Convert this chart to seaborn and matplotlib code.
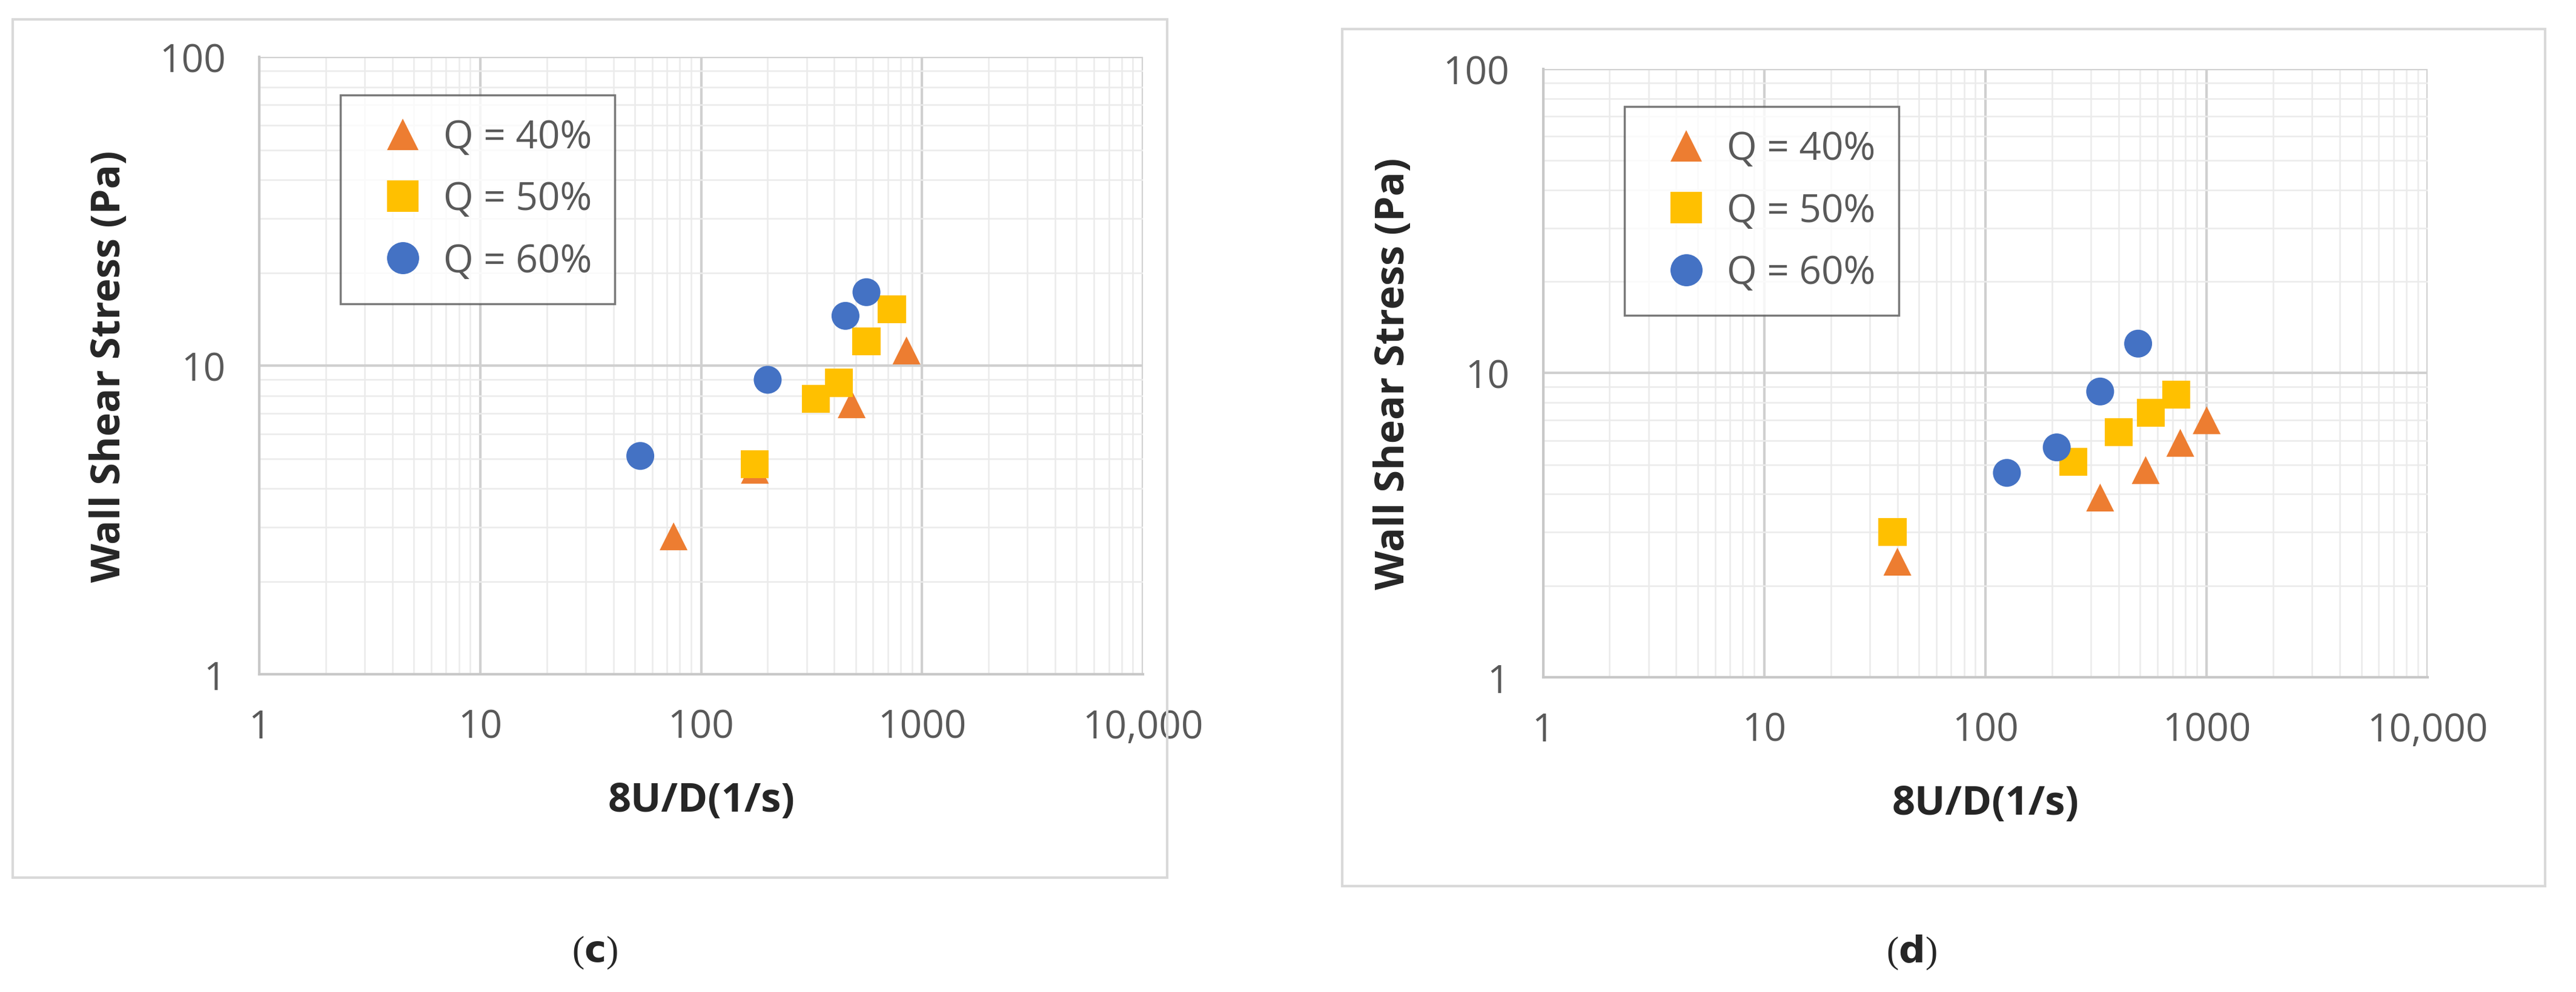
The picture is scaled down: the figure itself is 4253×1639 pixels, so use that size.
import numpy as np
import pandas as pd
import seaborn as sns
import matplotlib.pyplot as plt
from matplotlib.patches import Rectangle
from matplotlib.ticker import FixedLocator, LogLocator, NullFormatter

# data
series = ["Q = 40%", "Q = 50%", "Q = 60%"]

c_x40 = [75, 175, 480, 850]
c_y40 = [2.8, 4.6, 7.5, 11.2]
c_x50 = [175, 330, 420, 560, 730]
c_y50 = [4.8, 7.8, 8.8, 12.0, 15.2]
c_x60 = [53, 200, 450, 560]
c_y60 = [5.1, 9.0, 14.5, 17.3]

d_x40 = [40, 330, 530, 760, 1000]
d_y40 = [2.4, 3.9, 4.8, 5.9, 7.0]
d_x50 = [38, 250, 400, 560, 730]
d_y50 = [3.0, 5.1, 6.4, 7.4, 8.5]
d_x60 = [125, 210, 330, 490]
d_y60 = [4.7, 5.7, 8.7, 12.5]

x_ticks = [1, 10, 100, 1000, 10000]
x_labels = ["1", "10", "100", "1000", "10,000"]
y_ticks = [1, 10, 100]
y_labels = ["1", "10", "100"]


def make_df(xs, ys):
    rows = []
    for name, x, y in zip(series, xs, ys):
        for a, b in zip(x, y):
            rows.append({"x": a, "y": b, "Q": name})
    return pd.DataFrame(rows)


sns.set_style("white")
plt.rcParams['font.family'] = ['Open Sans', 'DejaVu Sans']

palette = {"Q = 40%": "#ED7D31", "Q = 50%": "#FFC000", "Q = 60%": "#4472C4"}
markers = {"Q = 40%": "^", "Q = 50%": "s", "Q = 60%": "o"}

fig = plt.figure(figsize=(42.53, 16.4), dpi=100)

panels = [
    (make_df([c_x40, c_x50, c_x60], [c_y40, c_y50, c_y60]),
     [0.1007, 0.320, 0.343, 0.622], (0.005, 0.115, 0.448, 0.865), "c", 0.231),
    (make_df([d_x40, d_x50, d_x60], [d_y40, d_y50, d_y60]),
     [0.599, 0.317, 0.3435, 0.613], (0.521, 0.107, 0.467, 0.863), "d", 0.742),
]

for df, pos, box, cap, capx in panels:
    fig.patches.append(Rectangle(box[:2], box[2], box[3], transform=fig.transFigure,
                                 fill=False, edgecolor="#D9D9D9", linewidth=3))
    ax = fig.add_axes(pos)
    sns.scatterplot(data=df, x="x", y="y", hue="Q", style="Q", palette=palette,
                    markers=markers, s=1100, edgecolor="none", ax=ax, zorder=3)
    ax.set_xscale("log")
    ax.set_yscale("log")
    ax.set_xlim(1, 10000)
    ax.set_ylim(1, 100)
    ax.xaxis.set_major_locator(FixedLocator(x_ticks))
    ax.set_xticklabels(x_labels)
    ax.yaxis.set_major_locator(FixedLocator(y_ticks))
    ax.set_yticklabels(y_labels)
    ax.xaxis.set_minor_locator(LogLocator(base=10, subs=np.arange(2, 10)))
    ax.yaxis.set_minor_locator(LogLocator(base=10, subs=np.arange(2, 10)))
    ax.xaxis.set_minor_formatter(NullFormatter())
    ax.yaxis.set_minor_formatter(NullFormatter())
    ax.grid(which="major", color="#D0D0D0", linewidth=3)
    ax.grid(which="minor", color="#EBEBEB", linewidth=1.8)
    ax.set_axisbelow(True)
    for s in ["top", "right"]:
        ax.spines[s].set_visible(False)
    for s in ["left", "bottom"]:
        ax.spines[s].set_color("#C8C8C8")
        ax.spines[s].set_linewidth(3)
    ax.tick_params(which="major", length=12, width=3, color="#C8C8C8",
                   labelsize=46, labelcolor="#595959", pad=28)
    ax.tick_params(which="minor", length=0)
    ax.set_xlabel("8U/D(1/s)", fontsize=48, fontweight="bold", color="#262626", labelpad=40)
    ax.set_ylabel("Wall Shear Stress (Pa)", fontsize=48, fontweight="bold", color="#262626", labelpad=35)
    leg = ax.legend(loc="upper left", bbox_to_anchor=(0.07, 0.97), fontsize=46,
                    markerscale=1.15, handletextpad=0.05, labelspacing=0.6,
                    fancybox=False, edgecolor="#595959", borderpad=0.6)
    leg.get_frame().set_linewidth(2.5)
    for t in leg.get_texts():
        t.set_color("#595959")
    fig.text(capx, 0.04, "(" + r"$\mathbf{" + cap + "}$" + ")", ha="center", va="center",
             fontsize=44, family="Liberation Serif")

fig.savefig("out.png", dpi=100)
